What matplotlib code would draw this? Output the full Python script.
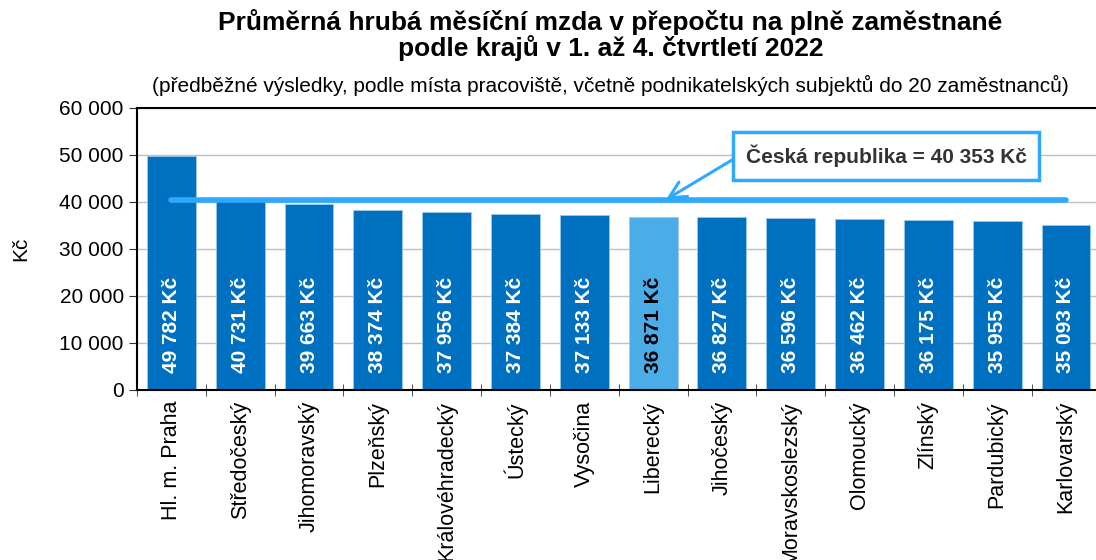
import matplotlib.pyplot as plt
import numpy as np

plt.rcParams['font.family'] = ['Liberation Sans', 'DejaVu Sans']

regions = ["Hl. m. Praha", "Středočeský", "Jihomoravský", "Plzeňský", "Královéhradecký",
           "Ústecký", "Vysočina", "Liberecký", "Jihočeský", "Moravskoslezský",
           "Olomoucký", "Zlínský", "Pardubický", "Karlovarský"]
wages = [49782, 40731, 39663, 38374, 37956, 37384, 37133, 36871, 36827, 36596,
         36462, 36175, 35955, 35093]
highlight = "Liberecký"
cr_average = 40353


def fmt(v):
    return f"{v:,}".replace(",", " ")


fig = plt.figure(figsize=(10.96, 5.6), dpi=100)
ax = fig.add_axes([0.125, 0.3036, 0.879, 0.5036])

x = np.arange(len(regions))
colors = ["#4AADE8" if r == highlight else "#0070C0" for r in regions]
ax.bar(x, wages, width=0.71, color=colors, edgecolor="#9CC8EA", linewidth=0.6, zorder=2)

for xi, v, r in zip(x, wages, regions):
    tc = "black" if r == highlight else "white"
    ax.text(xi, 3700, fmt(v) + " Kč", rotation=90, ha="center", va="bottom",
            color=tc, fontsize=15, fontweight="bold", zorder=3)

# prumer za CR
ax.plot([x[0], x[-1]], [cr_average, cr_average], color="#2EA9FF", lw=4,
        solid_capstyle="round", zorder=4)
ax.annotate("Česká republika = " + fmt(cr_average) + " Kč",
            xy=(7.17, cr_average), xytext=(10.39, 49750),
            ha="center", va="center", fontsize=15, fontweight="bold", color="#333333",
            bbox=dict(boxstyle="square,pad=0.6", fc="white", ec="#2EA9FF", lw=2.5),
            arrowprops=dict(arrowstyle="->,head_length=0.8,head_width=0.4",
                            color="#2EA9FF", lw=2.2, shrinkA=0, shrinkB=1,
                            relpos=(0, 0.7)),
            zorder=5)

ax.set_xlim(-0.5, len(regions) - 0.5)
ax.set_ylim(0, 60000)
ax.set_yticks(range(0, 60001, 10000))
ax.set_yticklabels([fmt(v) for v in range(0, 60001, 10000)], fontsize=15)
ax.yaxis.grid(True, color="#C0C0C0", lw=1, zorder=0)
ax.set_axisbelow(True)
ax.set_ylabel("Kč", fontsize=15, labelpad=21)

ax.set_xticks(x)
ax.set_xticklabels(regions, rotation=90, fontsize=15.5, va="top", ha="center")
ax.tick_params(axis="x", length=0, pad=8)
ax.set_xticks(np.arange(len(regions) + 1) - 0.5, minor=True)
ax.tick_params(axis="x", which="minor", length=8, direction="inout", color="#333333")
ax.tick_params(axis="y", length=6, direction="out", color="#333333")

for s in ["left", "bottom", "top"]:
    ax.spines[s].set_linewidth(1.5)
ax.spines["right"].set_visible(False)

fig.text(0.557, 0.961, "Průměrná hrubá měsíční mzda v přepočtu na plně zaměstnané",
         ha="center", va="center", fontsize=19, fontweight="bold")
fig.text(0.557, 0.914, "podle krajů v 1. až 4. čtvrtletí 2022",
         ha="center", va="center", fontsize=19, fontweight="bold")
fig.text(0.557, 0.848, "(předběžné výsledky, podle místa pracoviště, včetně podnikatelských subjektů do 20 zaměstnanců)",
         ha="center", va="center", fontsize=15)

fig.savefig("out.png", dpi=100)
